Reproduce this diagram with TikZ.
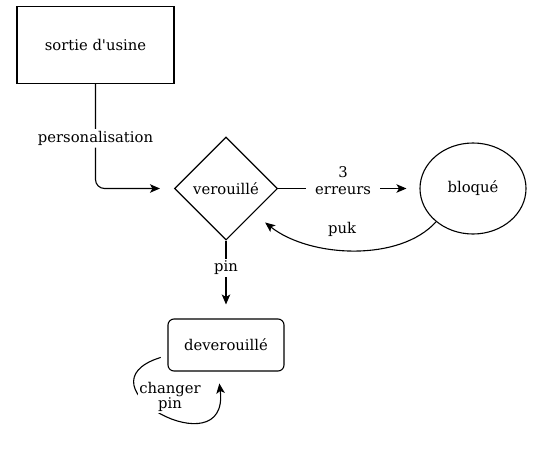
\documentclass[tikz,border=0pt]{standalone}
\usepackage{fontspec}
\setmainfont{DejaVu Serif}[Ligatures=TeXOff]
\usetikzlibrary{shapes.geometric,arrows.meta}
\begin{document}
\begin{tikzpicture}[x=1pt,y=-1pt,line width=1.1pt,
  every node/.style={font=\fontsize{14.8}{19}\selectfont},
  box/.style={draw,rectangle,inner sep=2pt},
  arr/.style={-{Stealth[length=10pt,width=8.5pt,inset=2.5pt]}},
  lbl/.style={fill=white,inner sep=2pt,align=center}]
\useasboundingbox (0,0) rectangle (551,453);
\node[box,minimum width=157pt,minimum height=77pt] (usine) at (95.5,45) {sortie d'usine};
\node[draw,diamond,inner sep=0pt,minimum width=103pt,minimum height=103pt] (ver) at (226,188.5) {verouillé};
\node[draw,ellipse,minimum width=106pt,minimum height=91pt,inner sep=1pt] (bloq) at (473,188.5) {bloqué};
\node[box,rounded corners=6pt,minimum width=116pt,minimum height=52pt] (dev) at (226,345) {deverouillé};
\draw[arr,rounded corners=9pt,shorten >=14pt] (usine.south) |- node[lbl,pos=0.26] (lp) {personalisation} (ver.west);
\draw[arr,shorten >=13pt] (ver.east) -- node[lbl,inner xsep=9pt,pos=0.46,yshift=8pt] (le) {3\\[-2pt]erreurs} (bloq.west);
\draw[arr,shorten >=14pt] (ver.south) -- node[lbl,pos=0.35] (lpin) {pin} (dev.north);
\draw[arr,shorten >=15pt] (bloq.222) .. controls (400,262) and (310,258) .. node[pos=0.55,above=8pt] (lpuk) {puk} (ver.318);
\draw[arr,shorten <=7pt,shorten >=12pt] (dev.190) .. controls (72,385) and (230,470) .. (dev.253);
\node[lbl,inner sep=1pt] (lch) at (170,397) {changer\\[-4pt]pin};
\end{tikzpicture}
\end{document}
